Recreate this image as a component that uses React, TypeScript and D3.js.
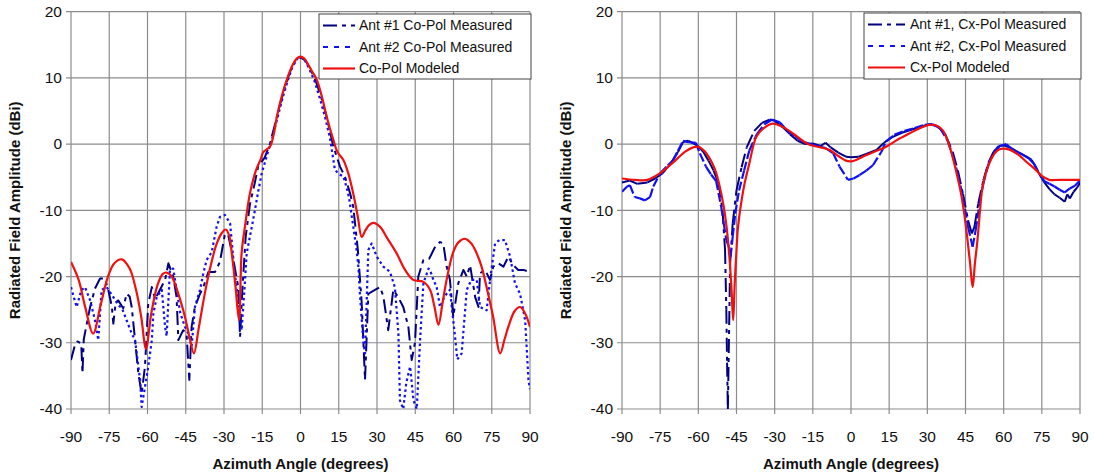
import React from "react";
import * as d3 from "d3";

const W = 1094;
const H = 474;

const angleTicks = [-90, -75, -60, -45, -30, -15, 0, 15, 30, 45, 60, 75, 90];
const dbTicks = [20, 10, 0, -10, -20, -30, -40];

// left panel: co-pol
const ant1CoPol: [number, number][] = [
  [-90, -32.6], [-88.5, -30.4], [-87.5, -29.8], [-86, -30.1], [-85.5, -34.6], [-85, -29.5],
  [-83.5, -26.5], [-82.5, -24.6], [-80.6, -21.8], [-78.6, -20.3], [-76.7, -20.3], [-75.4, -22],
  [-74, -24.5], [-73.4, -27.1], [-72.5, -24], [-71.5, -23.6], [-69.5, -24.8], [-68.2, -22.6],
  [-67, -23], [-66.2, -24.6], [-65, -29.1], [-63.6, -34.6], [-62.3, -37.7], [-61, -33.6],
  [-59.7, -24.1], [-58.3, -21.6], [-57, -23.4], [-55.1, -22], [-53.1, -20.5], [-51.8, -18],
  [-49.9, -20], [-48.6, -23.1], [-47.9, -29.6], [-46, -28.1], [-44.7, -28.6], [-43.6, -35.6],
  [-42.7, -27.6], [-41.4, -24.6], [-39.4, -22.6], [-38.1, -21.6], [-36.1, -19.3], [-33.5, -19.3],
  [-31.6, -17.8], [-29.6, -13.5], [-28.3, -13.8], [-26.3, -17.5], [-24.4, -21.6], [-23.7, -29.1],
  [-22.8, -22], [-21.5, -14], [-19.8, -9], [-18, -6], [-16.6, -3.4], [-14, -2], [-12, 0],
  [-10, 3], [-8, 6], [-6, 8.8], [-4, 11], [-2, 12.6], [0, 13.1], [2, 12.6], [4, 11.2], [6, 9.5],
  [8, 7.2], [10, 4.5], [11.5, 2], [12.9, -0.4], [15.5, -3.4], [17.5, -5], [19.5, -7.5],
  [20.7, -9.5], [22.5, -16], [24, -24], [25.3, -35.6], [26.6, -22.6], [29.2, -22], [31.2, -21.6],
  [32.5, -23], [34.4, -28.1], [36.4, -22], [38.3, -23.1], [40.3, -24.6], [42.3, -27.6],
  [43.6, -32.6], [44.9, -30], [46.2, -20], [48.2, -17.5], [50.5, -17.3], [52.8, -15.5],
  [54.7, -14.8], [56, -15], [57.3, -18.5], [58.6, -20.5], [59.9, -26.1], [61.9, -21], [63.9, -19],
  [65.2, -20], [66.5, -18.3], [68.5, -23.1], [69.8, -24.6], [70.4, -19.5], [72.4, -19],
  [74.3, -20.5], [75.6, -18.5], [77.6, -18], [79.6, -18.5], [81.5, -17], [83.5, -18.3],
  [85.4, -19], [87.4, -19], [90, -19.3],
];

const ant2CoPol: [number, number][] = [
  [-90, -21.6], [-87.8, -24.6], [-86, -22.1], [-84.5, -21.6], [-82.5, -23.6], [-80.6, -26.6],
  [-79.3, -29.6], [-78, -22], [-76, -21.6], [-73.4, -23.1], [-71.5, -24.3], [-70, -24.8],
  [-68.2, -26.6], [-66.2, -28.6], [-64.9, -29.6], [-62.9, -35.6], [-62.3, -39.7], [-61, -36.7],
  [-59.7, -33.6], [-58.3, -29.6], [-57.7, -25.6], [-56.4, -23.1], [-54.4, -22], [-53.1, -27.6],
  [-52.5, -29], [-51.2, -19], [-49.9, -18.8], [-48.6, -22], [-47.2, -25.4], [-45.3, -27.6],
  [-44, -28.6], [-42.7, -30.6], [-41.4, -24.6], [-39.4, -22], [-38.1, -19.5], [-36.8, -17.5],
  [-34.8, -16.3], [-32.9, -12.5], [-31.6, -11], [-29.6, -10.7], [-27.6, -12], [-26.3, -17.5],
  [-25, -22], [-23.1, -28.1], [-22, -22], [-21.1, -16.5], [-18.6, -11.5], [-16.5, -7],
  [-15.2, -4.4], [-13, -1.5], [-11, 1], [-9, 4], [-7, 7], [-5, 9.6], [-3, 11.8], [-1, 13],
  [0, 13.2], [1.5, 12.8], [3.5, 11.3], [5.5, 9.5], [7.5, 7], [9.5, 4.3], [11.5, 1], [13.5, -3.9],
  [15, -4.5], [16.8, -4.9], [17.6, -5.9], [19, -8], [20.7, -12.5], [22, -16], [22.7, -18.5],
  [23.3, -22.6], [24.6, -29.6], [25.3, -31.6], [26.6, -16], [27.9, -15], [29.9, -17],
  [32.5, -18.5], [35.1, -19.3], [37, -21.6], [38.4, -28.6], [39, -38.7], [40.3, -40],
  [41.5, -36], [43, -33.6], [44.3, -38.7], [45.6, -40], [46.9, -29.6], [48.2, -21],
  [50.2, -18.8], [50.8, -19], [52.1, -20.5], [53.4, -21.6], [54.7, -24.6], [56.5, -23],
  [58.6, -22], [60.6, -29.1], [61.5, -32.5], [63.2, -31.6], [65.2, -22], [67, -20.5],
  [69.1, -20.5], [70.4, -24.6], [73, -25.1], [74.5, -20], [76.3, -15], [78, -14.5],
  [80.2, -14.5], [82.2, -17], [84.1, -21], [86.1, -22.6], [88.1, -26.6], [89.4, -35.6], [90, -37],
];

const modelCoPol: [number, number][] = [
  [-90, -17.8], [-87, -20.5], [-84.5, -24.5], [-81.3, -28.6], [-78.5, -24.5], [-75.5, -20],
  [-73, -18], [-70.1, -17.4], [-67, -18.8], [-64.5, -22], [-62.5, -26], [-60.6, -30.9],
  [-58.5, -25.5], [-56, -21.2], [-54, -19.6], [-52.5, -19.4], [-50.5, -20], [-48, -22.5],
  [-45.5, -25.8], [-43.5, -29.2], [-41.8, -31.6], [-40, -28], [-37.5, -22.5], [-35, -18],
  [-33, -15.2], [-31, -13.5], [-29.3, -12.9], [-28, -13.8], [-26.8, -17], [-25.5, -21.5],
  [-24.1, -26.6], [-23.1, -16.5], [-21.8, -12.5], [-19.8, -7.4], [-17.5, -4], [-15.5, -2.2],
  [-14.6, -1.2], [-12, -0.4], [-10.5, 1.5], [-9.3, 4.1], [-7.5, 7], [-5.4, 9.7], [-3, 12],
  [-1.5, 12.9], [0, 13.2], [1.5, 12.9], [3, 12], [4.5, 11], [6.4, 9.7], [8.5, 7], [10.3, 4.1],
  [12.9, 0.6], [14.5, -1.2], [16.8, -2.4], [18.8, -4.5], [20.7, -7.5], [22.5, -11], [24, -14],
  [25.5, -13], [27, -12.2], [28.6, -11.9], [31.2, -12.5], [34, -14.2], [37.7, -16.5], [41, -19],
  [44.2, -20.5], [48.2, -20.8], [50.8, -22], [52.5, -24.5], [54.1, -27.3], [55.7, -24],
  [57.3, -20.5], [59.9, -16.3], [62, -14.8], [64.5, -14.3], [67, -15], [69.1, -16.5], [71, -18.5],
  [73, -21.6], [75.5, -26], [78.3, -31.6], [80, -29.5], [81.5, -27.6], [84, -25.2], [86.1, -24.6],
  [88, -25.5], [90, -27.6],
];

// right panel: cross-pol
const ant1CxPol: [number, number][] = [
  [-90, -5.8], [-87, -5.5], [-84, -6], [-80, -5.8], [-77, -5.2], [-74, -4.4], [-71, -3],
  [-68, -1.2], [-66, 0.3], [-64, 0.5], [-62, 0.1], [-60, -0.3], [-58, -1.2], [-56, -2.5],
  [-54, -4], [-52, -6], [-50.5, -10], [-49.5, -16], [-49, -25], [-48.7, -33], [-48.4, -40],
  [-47.5, -18], [-46.5, -12], [-45, -7], [-43, -3.5], [-41, -0.5], [-38, 2], [-35, 3.2],
  [-32, 3.7], [-30, 3.5], [-27, 2.6], [-24, 1.5], [-21, 0.5], [-18, 0], [-15, 0.1], [-12, -0.3],
  [-10, 0.2], [-8, -0.5], [-5, -1.3], [-2, -1.9], [0, -2], [3, -1.9], [6, -1.5], [10, -0.9],
  [13, 0.2], [16, 1], [20, 1.7], [24, 2.2], [28, 2.7], [31, 3], [34, 2.7], [37, 1.5], [40, -1.2],
  [42, -4], [44, -7.5], [46, -11.5], [47.5, -13.5], [48.5, -12.5], [50, -9], [52, -5.5],
  [54, -2.8], [56, -1.2], [58, -0.3], [60, -0.2], [63, -0.6], [66, -1.3], [69, -1.9], [71, -2.4],
  [72.5, -3.4], [74, -4.5], [76, -5.8], [78, -6.8], [80, -7.6], [82, -8.1], [84, -8.7],
  [85, -7.6], [86, -8.2], [87.5, -7.2], [89, -6.5], [90, -5.8],
];

const ant2CxPol: [number, number][] = [
  [-90, -7.2], [-88, -6.4], [-86.9, -6.2], [-85, -8], [-83, -8.2], [-81, -8.5], [-79, -8],
  [-77.7, -6.4], [-75, -4.4], [-72, -3.2], [-70, -2.5], [-68, -1], [-66, 0.5], [-64, 0.3],
  [-61, 0.2], [-59.4, -1.4], [-57, -3.4], [-55, -4.6], [-53, -5.6], [-51, -9.5], [-50, -12],
  [-49, -14.5], [-48, -15.5], [-47.3, -17], [-46.5, -14], [-45.5, -10.5], [-44, -7], [-42, -4],
  [-40, -1], [-37, 1.5], [-34, 3], [-31, 3.7], [-28, 3.3], [-25, 2], [-22, 1.2], [-19, 0.4],
  [-16, 0], [-13, -0.3], [-10, -0.6], [-7, -1.4], [-4.5, -3.4], [-1.2, -5.4], [1, -5.2],
  [3.3, -4.7], [6, -4], [8.6, -3.2], [11.9, -1.2], [13.8, 0.4], [17, 1.4], [21, 2], [25, 2.4],
  [29, 2.9], [32, 3], [35, 2.4], [38, 0.5], [40, -1.8], [42, -4.5], [44, -8], [46, -12.5],
  [47.8, -15.5], [49, -13], [50.5, -9], [52, -6], [54, -3], [56, -1.4], [58.5, -0.3], [61, 0],
  [64, -1], [67, -1.5], [70, -2.2], [72, -3], [74, -4.5], [76, -5.6], [78, -6], [80, -6.4],
  [82, -6.9], [84, -7.3], [86, -6.7], [88, -6.3], [90, -5.5],
];

const modelCxPol: [number, number][] = [
  [-90, -5.2], [-85, -5.4], [-80, -5.4], [-75, -4.4], [-70, -2.8], [-65, -1.1], [-62, -0.5],
  [-60, -0.4], [-57.5, -1.1], [-55.5, -2.2], [-53.5, -3.8], [-51.6, -6.4], [-50, -9.5],
  [-48.9, -12.5], [-47.8, -17], [-47, -21.6], [-46.3, -26.6], [-45.7, -21], [-45, -16],
  [-44.4, -12.5], [-43, -8.5], [-41.8, -5.9], [-40, -3], [-37.2, 1.1], [-34, 2.5], [-30.7, 3.1],
  [-27, 2.6], [-22.8, 1.6], [-19, 0.5], [-16.3, -0.1], [-12, -0.5], [-8.4, -0.9], [-5, -1.8],
  [-2, -2.5], [0, -2.6], [2, -2.4], [4.6, -1.9], [9, -1.2], [13.8, -0.4], [18, 0.6], [22.9, 1.6],
  [27, 2.4], [30.8, 2.9], [33.5, 2.8], [36, 2.1], [38, 0.5], [39.9, -1.9], [41.5, -4.4],
  [43.2, -7.4], [44.5, -10.5], [45.8, -14.5], [46.8, -18], [47.8, -21.6], [48.7, -18],
  [49.7, -14.5], [50.7, -10], [51.7, -6.4], [53.5, -3.8], [55.6, -1.9], [57.5, -1], [59.5, -0.7],
  [62, -0.8], [66.1, -1.7], [69, -2.7], [72.6, -3.9], [75, -4.8], [77.9, -5.4], [82, -5.4],
  [86, -5.4], [90, -5.4],
];

const coPolLabels = ["Ant #1 Co-Pol Measured", "Ant #2 Co-Pol Measured", "Co-Pol Modeled"];
const cxPolLabels = ["Ant #1, Cx-Pol Measured", "Ant #2, Cx-Pol Measured", "Cx-Pol Modeled"];

const FONT = "'Liberation Sans', Arial, sans-serif";
const GRID = "#8c8c8c";
const C1 = "#000080";
const C2 = "#1010f0";
const CM = "#f01010";
const DASH1 = "14,5,4,5";

function Panel({ x0, x1, ant1, ant2, model, labels, legend, segmented, dash2, id }: any) {
  const x = d3.scaleLinear().domain([-90, 90]).range([x0, x1]);
  const y = d3.scaleLinear().domain([-40, 20]).range([409, 11.6]);
  const line = d3.line<[number, number]>().x((d) => x(d[0])).y((d) => y(d[1]));
  const smooth = d3
    .line<[number, number]>()
    .x((d) => x(d[0]))
    .y((d) => y(d[1]))
    .curve(d3.curveCatmullRom.alpha(0.5));
  const styles = [
    { data: ant1, color: C1, dash: DASH1, w: 2 },
    { data: ant2, color: C2, dash: dash2, w: 2.2 },
  ];
  return (
    <g>
      <defs>
        <clipPath id={id}>
          <rect x={x0} y={y(20)} width={x1 - x0} height={y(-40) - y(20)} />
        </clipPath>
      </defs>
      {angleTicks.map((t) => (
        <line key={"v" + t} x1={x(t)} x2={x(t)} y1={y(20)} y2={y(-40) + 5} stroke={GRID} strokeWidth={1.2} />
      ))}
      {dbTicks.map((t) => (
        <line key={"h" + t} x1={x0 - 5} x2={x1} y1={y(t)} y2={y(t)} stroke={GRID} strokeWidth={1.2} />
      ))}
      {dbTicks.map((t) => (
        <text key={"yl" + t} x={x0 - 9} y={y(t)} dy="0.35em" textAnchor="end" fontSize={15.5} fill="#111">
          {t}
        </text>
      ))}
      {angleTicks.map((t) => (
        <text key={"xl" + t} x={x(t)} y={442} textAnchor="middle" fontSize={15.5} fill="#111">
          {t}
        </text>
      ))}
      <text x={(x0 + x1) / 2} y={469} textAnchor="middle" fontSize={15} fontWeight="bold" fill="#111">
        Azimuth Angle (degrees)
      </text>
      <text
        transform={`translate(${x0 - 51},${(y(20) + y(-40)) / 2}) rotate(-90)`}
        textAnchor="middle"
        fontSize={15}
        fontWeight="bold"
        fill="#111"
      >
        Radiated Field Amplitude (dBi)
      </text>
      <g clipPath={`url(#${id})`} fill="none" strokeLinejoin="round">
        {styles.map((s, k) =>
          segmented ? (
            <g key={k}>
              {s.data.slice(1).map((d: [number, number], i: number) => (
                <line
                  key={i}
                  x1={x(s.data[i][0])}
                  y1={y(s.data[i][1])}
                  x2={x(d[0])}
                  y2={y(d[1])}
                  stroke={s.color}
                  strokeWidth={s.w}
                  strokeDasharray={s.dash}
                />
              ))}
            </g>
          ) : (
            <path key={k} d={line(s.data) || ""} stroke={s.color} strokeWidth={s.w} strokeDasharray={s.dash} />
          )
        )}
        <path d={smooth(model) || ""} stroke={CM} strokeWidth={2.2} />
      </g>
      <rect x={legend.x} y={legend.y} width={legend.w} height={legend.h} fill="#fff" stroke="#444" strokeWidth={1} />
      {labels.map((lab: string, i: number) => {
        const ry = legend.y + 11.5 + i * 21.5;
        const st = i === 0 ? { c: C1, d: DASH1 } : i === 1 ? { c: C2, d: "5,6" } : { c: CM, d: undefined };
        return (
          <g key={lab}>
            <line x1={legend.x + 4} x2={legend.x + legend.sw} y1={ry} y2={ry} stroke={st.c} strokeWidth={2.2} strokeDasharray={st.d} />
            <text x={legend.x + legend.tx} y={ry} dy="0.35em" fontSize={14} fill="#111">
              {lab}
            </text>
          </g>
        );
      })}
    </g>
  );
}

export default function App() {
  return (
    <svg
      width={W}
      height={H}
      style={{ position: "absolute", left: 0, top: 0, background: "#fff", fontFamily: FONT }}
    >
      <rect width={W} height={H} fill="#fff" />
      <Panel
        id="clipL"
        x0={71}
        x1={530}
        ant1={ant1CoPol}
        ant2={ant2CoPol}
        model={modelCoPol}
        labels={coPolLabels}
        legend={{ x: 319, y: 14, w: 212, h: 65, sw: 36, tx: 40 }}
        segmented={false}
        dash2="2.5,3"
      />
      <Panel
        id="clipR"
        x0={622}
        x1={1080}
        ant1={ant1CxPol}
        ant2={ant2CxPol}
        model={modelCxPol}
        labels={cxPolLabels}
        legend={{ x: 864, y: 13, w: 217, h: 66, sw: 41, tx: 46 }}
        segmented={true}
        dash2="9,3"
      />
    </svg>
  );
}
